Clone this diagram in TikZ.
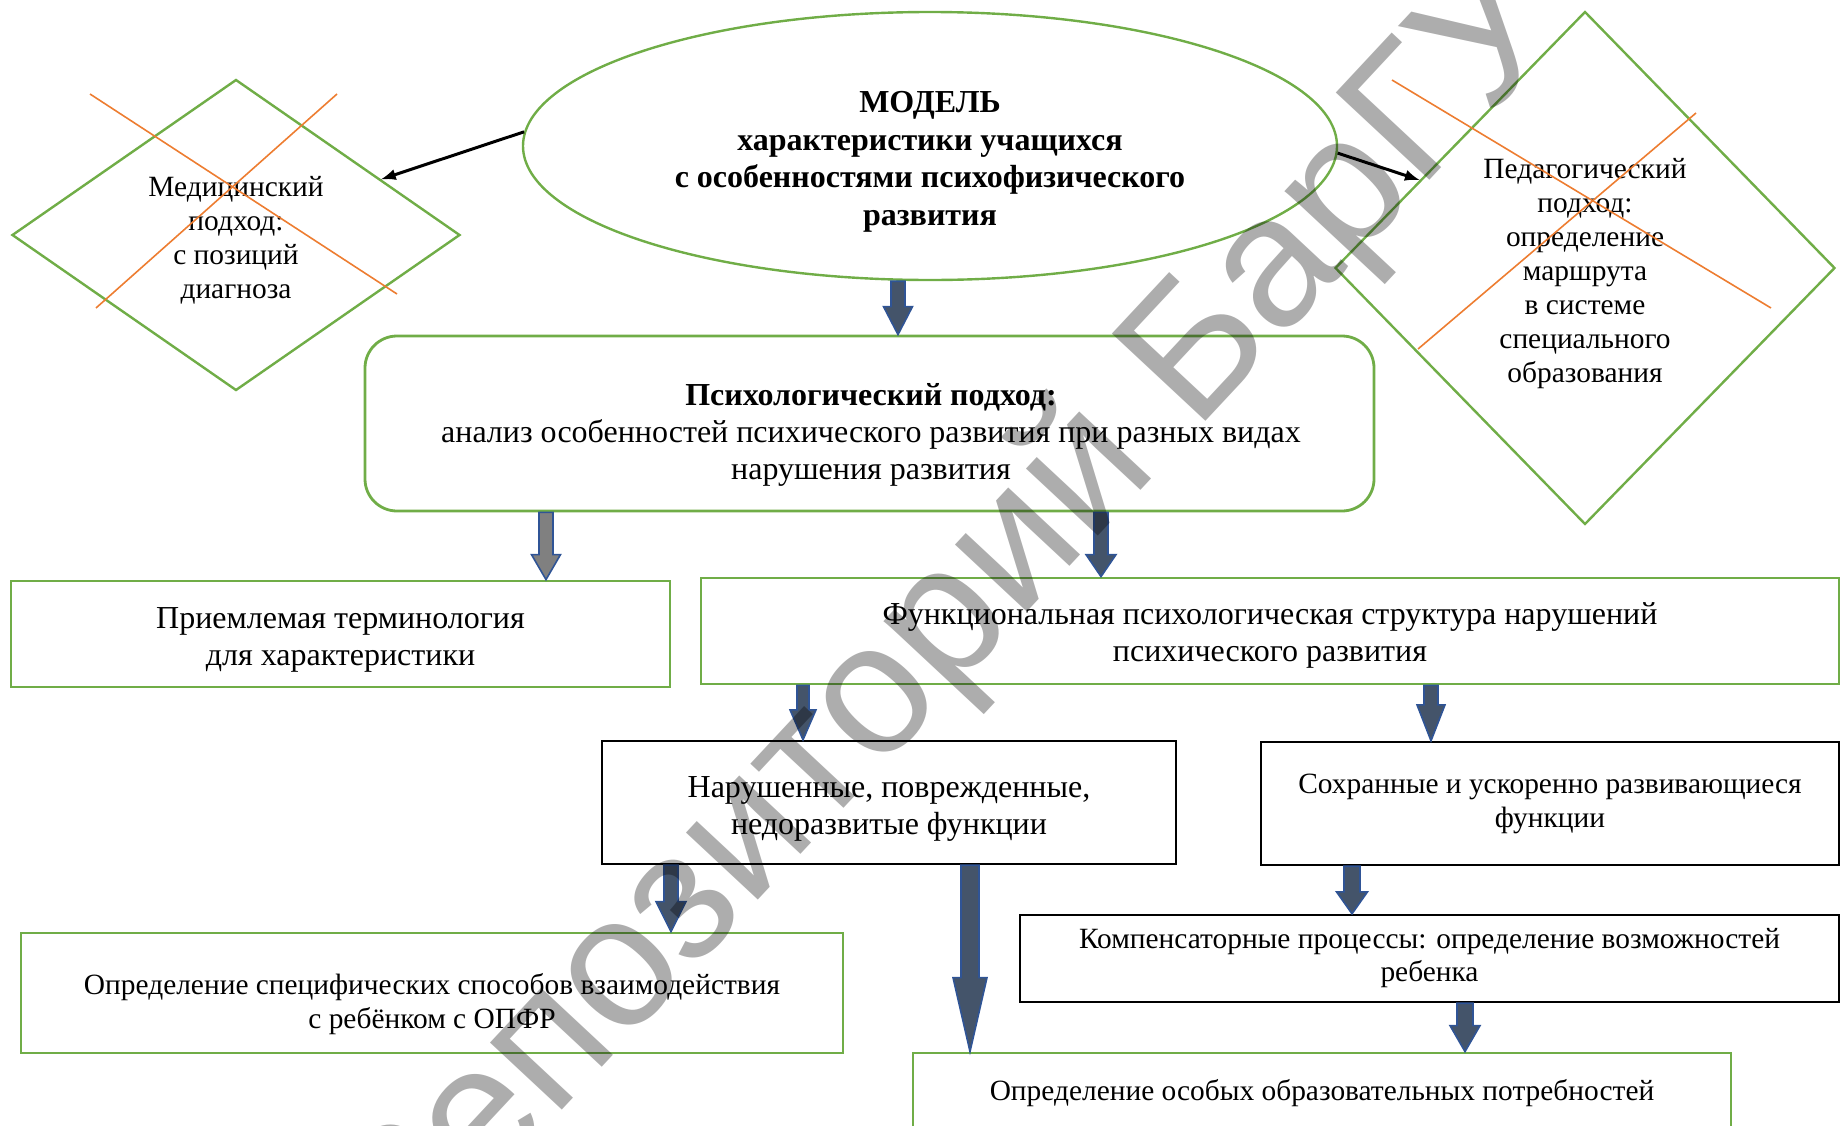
\documentclass[tikz,border=0pt]{standalone}
\usepackage{fontspec}
\setmainfont{Liberation Serif}
\newfontfamily\wmfont{Liberation Sans}
\usetikzlibrary{shapes.geometric, calc}

\definecolor{leafgreen}{HTML}{70AD47}
\definecolor{crossorange}{HTML}{ED7D31}
\definecolor{slatefill}{HTML}{44546A}
\definecolor{arrowedge}{HTML}{2F5496}

\begin{document}
\begin{tikzpicture}[> = latex, x = 0.5pt, y = -0.5pt,
		txt/.style = {align = center, inner sep = 0pt, font = \fontsize{14.7}{17}\selectfont},
		loosetxt/.style = {align = center, inner sep = 0pt, font = \fontsize{16}{18.5}\selectfont},
		greenbox/.style = {rectangle, draw = leafgreen, line width = 1.4pt, inner sep = 0pt},
		blackbox/.style = {rectangle, draw = black, line width = 1.2pt, inner sep = 0pt},
		approach/.style = {diamond, draw = leafgreen, line width = 1.2pt, inner sep = 0pt},
		crossline/.style = {crossorange, line width = 0.8pt},
		link/.style = {->, line width = 1.5pt},
		arrshaft/.store in = \arrshaft, arrhead/.store in = \arrhead, arrtip/.store in = \arrtip,
		arrshaft = 3.5pt, arrhead = 7.25pt, arrtip = 14pt,
		blockarrow/.style = {fill = slatefill, draw = arrowedge, line width = 0.8pt,
			to path = {let \p1 = (\tikztostart), \p2 = (\tikztotarget) in
				(\x1 - \arrshaft, \y1) -- (\x1 - \arrshaft, \y2 + \arrtip) -- (\x1 - \arrhead, \y2 + \arrtip)
				-- (\x2, \y2) -- (\x1 + \arrhead, \y2 + \arrtip) -- (\x1 + \arrshaft, \y2 + \arrtip)
				-- (\x1 + \arrshaft, \y1) -- cycle}},
		greyarrow/.style = {blockarrow, fill = gray},
		stamp/.style = {font = \wmfont\fontsize{93}{93}\selectfont, text = black, text opacity = 0.32, inner sep = 0pt}
	]

	\clip (0, 0) rectangle (1841, 1125);

	% Model
	
	\node [ellipse, draw = leafgreen, line width = 1.2pt, minimum width = 407pt, minimum height = 134pt, inner sep = 0pt] (model) at (930, 146) {};
	\node [loosetxt, font = \bfseries\fontsize{16}{18.8}\selectfont] (modeltext) at (930, 162) {МОДЕЛЬ\\ характеристики учащихся\\ с особенностями психофизического\\ развития};
	
	% Crossed out approaches
	
	\node [approach, minimum width = 224pt, minimum height = 155.5pt] (med) at (236, 235) {};
	\node [txt] (medtext) at (236, 240) {Медицинский\\ подход:\\ с позиций\\ диагноза};
	\node [approach, minimum width = 250pt, minimum height = 256.5pt] (ped) at (1585, 268) {};
	\node [txt] (pedtext) at (1585, 274) {Педагогический\\ подход:\\ определение\\ маршрута\\ в системе\\ специального\\ образования};
	
	\draw [crossline] ($(med.center) + (-146, -141)$) -- ($(med.center) + (161, 59)$);
	\draw [crossline] ($(med.center) + (101, -141)$) -- ($(med.center) + (-140, 73)$);
	\draw [crossline] ($(ped.center) + (-193, -188)$) -- ($(ped.center) + (186, 40)$);
	\draw [crossline] ($(ped.center) + (111, -155)$) -- ($(ped.center) + (-167, 81)$);
	
	\draw [link] (model.178) -- (med.21);
	\draw [link] (model.359) -- (ped.152);
	
	% Psychological approach
	
	\node [greenbox, rounded corners = 16pt, minimum width = 504.5pt, minimum height = 87.5pt] (psych) at (869.5, 423.5) {};
	\node [loosetxt] (psychtext) at (871, 435) {\textbf{Психологический подход:}\\ анализ особенностей психического развития при разных видах\\ нарушения развития};
	
	\node [greenbox, minimum width = 329.5pt, minimum height = 53pt] (term) at (340.5, 634) {};
	\node [loosetxt] (termtext) at (340.5, 640) {Приемлемая терминология\\ для характеристики};
	\node [greenbox, minimum width = 569pt, minimum height = 53pt] (func) at (1270, 631) {};
	\node [loosetxt] (functext) at (1270, 635) {Функциональная психологическая структура нарушений\\ психического развития};
	
	% Functions
	
	\node [blackbox, minimum width = 287pt, minimum height = 61.5pt] (broken) at (889, 802.5) {};
	\node [loosetxt] (brokentext) at (889, 809) {Нарушенные, поврежденные,\\ недоразвитые функции};
	\node [blackbox, txt, minimum width = 289pt, minimum height = 61.5pt] (intact) at (1550, 803.5) {Сохранные и ускоренно развивающиеся\\ функции};
	\node [blackbox, txt, font = \fontsize{14.7}{16.5}\selectfont, minimum width = 409.5pt, minimum height = 43.5pt] (comp) at (1429.5, 958.5) {Компенсаторные процессы: определение возможностей\\ ребенка};
	
	% Results
	
	\node [greenbox, minimum width = 411pt, minimum height = 60pt] (ways) at (432, 993) {};
	\node [txt] (waystext) at (432, 1004) {Определение специфических способов взаимодействия\\ с ребёнком с ОПФР};
	\node [greenbox, txt, minimum width = 409pt, minimum height = 40pt] (needs) at (1322, 1093) {Определение особых образовательных потребностей};
	
	% Block arrows
	
	\coordinate (c1) at (898, 0);
	\coordinate (c2) at (546, 0);
	\coordinate (c3) at (1101, 0);
	\coordinate (c4) at (803, 0);
	\coordinate (c5) at (1431, 0);
	\coordinate (c6) at (671, 0);
	\coordinate (c7) at (970, 0);
	\coordinate (c8) at (1352, 0);
	\coordinate (c9) at (1465, 0);
	
	\path [blockarrow] (model.south -| c1) to (psych.north -| c1);
	\path [greyarrow, arrtip = 12.5pt] (psych.south -| c2) to (term.north -| c2);
	\path [blockarrow, arrhead = 7.5pt, arrtip = 11pt] (psych.south -| c3) to (func.north -| c3);
	\path [blockarrow, arrshaft = 3pt, arrhead = 6.5pt, arrtip = 15pt] (func.south -| c4) to (broken.north -| c4);
	\path [blockarrow, arrhead = 7pt, arrtip = 18pt] (func.south -| c5) to (intact.north -| c5);
	\path [blockarrow, arrhead = 7.5pt, arrtip = 15pt] (broken.south -| c6) to (ways.north -| c6);
	\path [blockarrow, arrshaft = 4.5pt, arrhead = 8.5pt, arrtip = 37pt] (broken.south -| c7) to (needs.north -| c7);
	\path [blockarrow, arrshaft = 4pt, arrhead = 7.75pt, arrtip = 11pt] (intact.south -| c8) to (comp.north -| c8);
	\path [blockarrow, arrshaft = 4pt, arrhead = 7.5pt, arrtip = 13pt] (comp.south -| c9) to (needs.north -| c9);
	
	% Watermark
	
	\node [stamp, rotate = 47] (watermark) at (950, 622) {Репозиторий БарГУ};

\end{tikzpicture}
\end{document}
